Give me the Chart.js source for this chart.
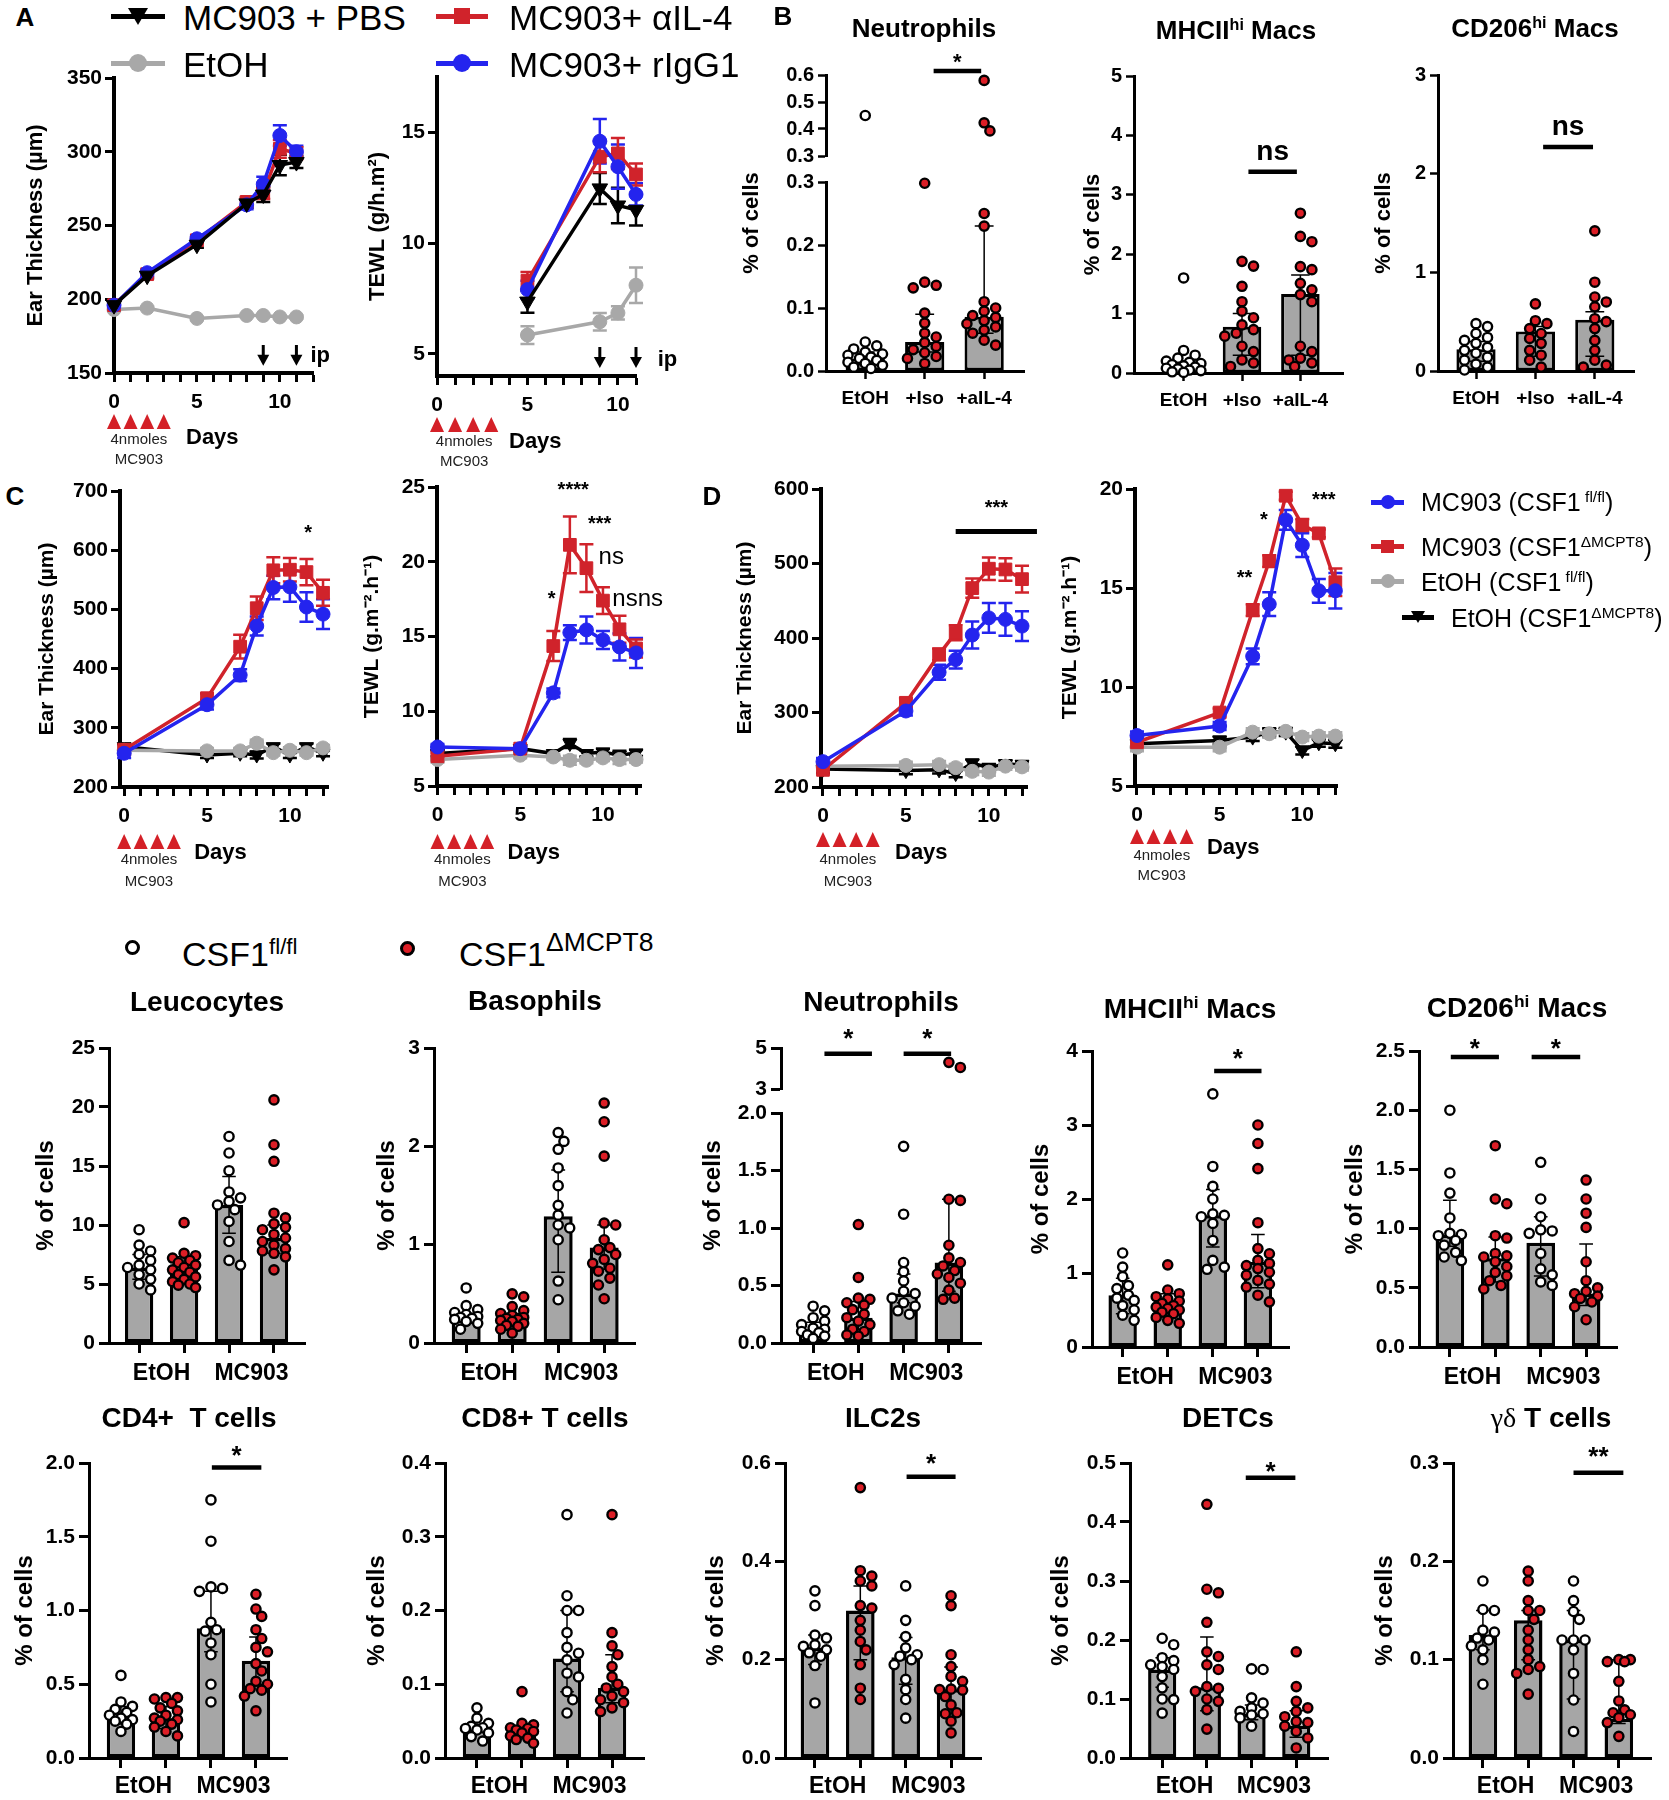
<!DOCTYPE html>
<html>
<head>
<meta charset="utf-8">
<title>CSF1 / MC903 figure</title>
<script src="https://cdn.jsdelivr.net/npm/chart.js@4.4.1/dist/chart.umd.min.js"></script>
<style>
  html, body { margin: 0; padding: 0; background: #fff; }
  body { position: relative; width: 1669px; height: 1800px; overflow: hidden; font-family: 'Liberation Sans', Arial, sans-serif; color: #000; }
  canvas { position: absolute; }
  .t { position: absolute; white-space: nowrap; line-height: 1; transform: translate(-50%, -50%); }
  .tl { position: absolute; white-space: nowrap; line-height: 1; transform: translate(0, -50%); }
  .t sup, .tl sup { font-size: 0.62em; vertical-align: 0.55em; line-height: 0; }
  .sym { position: absolute; box-sizing: border-box; }
</style>
</head>
<body>
<script>
// ---------- panel A : MC903 + anti-IL-4 ----------
const daysA = [0, 2, 5, 8, 9, 10, 11];
const earPBS = [196, 216, 237, 265, 271, 291, 293];
const earPBSerr = [2, 2, 2, 3, 5, 7, 4];
const earAIL4 = [196, 217, 240, 266, 272, 302, 299];
const earAIL4err = [2, 2, 2, 3, 4, 6, 4];
const earIgG = [196, 218, 241, 264, 278, 311, 300];
const earIgGerr = [2, 2, 2, 3, 5, 7, 4];
const earEtOHA = [193, 194, 187, 189, 189, 188, 188];
const earEtOHAerr = [1, 1, 1, 1, 1, 1, 1];

const daysTewlA = [5, 9, 10, 11];
const tewlPBS = [7.36, 12.47, 11.7, 11.5];
const tewlPBSerr = [0.5, 0.7, 0.8, 0.7];
const tewlAIL4 = [8.3, 13.9, 14.05, 13.1];
const tewlAIL4err = [0.4, 0.7, 0.7, 0.5];
const tewlIgG = [7.9, 14.6, 13.45, 12.2];
const tewlIgGerr = [0.4, 1.0, 1.0, 0.5];
const tewlEtOHA = [5.85, 6.45, 6.85, 8.1];
const tewlEtOHAerr = [0.4, 0.4, 0.3, 0.8];

const ipDays = [9, 11];
const doseDays = [0, 1, 2, 3];
const doseLines = ['4nmoles', 'MC903'];
const daysLabel = 'Days';

// ---------- panels C / D : CSF1 fl/fl vs CSF1 dMCPT8 ----------
const daysCD = [0, 5, 7, 8, 9, 10, 11, 12];
const earCfl = [257, 339, 389, 472, 537, 538, 504, 492];
const earCflErr = [8, 8, 10, 16, 20, 25, 25, 25];
const earCd = [263, 350, 437, 502, 566, 567, 563, 528];
const earCdErr = [8, 8, 20, 20, 22, 20, 22, 22];
const earCetFl = [262, 261, 261, 274, 258, 262, 258, 266];
const earCetD = [268, 254, 257, 254, 268, 254, 268, 257];
const earCetErr = [5, 5, 5, 6, 5, 5, 5, 5];

const tewlCfl = [7.61, 7.5, 11.23, 15.26, 15.44, 14.77, 14.3, 13.9];
const tewlCflErr = [0.2, 0.2, 0.3, 0.5, 0.9, 0.6, 0.9, 1.0];
const tewlCd = [6.99, 7.5, 14.36, 21.13, 19.57, 17.4, 15.48, 14.2];
const tewlCdErr = [0.2, 0.2, 1.0, 1.9, 1.6, 0.9, 0.9, 0.6];
const tewlCetFl = [6.77, 7.06, 6.94, 6.72, 6.72, 6.88, 6.77, 6.77];
const tewlCetD = [7.17, 7.5, 7.17, 7.84, 7.17, 7.28, 7.06, 7.21];
const tewlCetErr = [0.2, 0.2, 0.2, 0.3, 0.2, 0.2, 0.3, 0.2];

const earDfl = [234, 302, 354, 371, 404, 427, 425, 416];
const earDflErr = [5, 6, 10, 12, 18, 20, 22, 20];
const earDd = [223, 313, 378, 407, 467, 493, 492, 479];
const earDdErr = [5, 6, 8, 10, 13, 15, 15, 18];
const earDetFl = [228, 229, 230, 226, 221, 220, 228, 227];
const earDetD = [224, 222, 223, 218, 232, 226, 231, 230];
const earDetErr = [5, 5, 5, 5, 5, 5, 5, 5];

const tewlDfl = [7.55, 8.03, 11.55, 14.18, 18.44, 17.16, 14.86, 14.86];
const tewlDflErr = [0.2, 0.2, 0.4, 0.6, 0.5, 0.6, 0.6, 0.9];
const tewlDd = [7.21, 8.71, 13.88, 16.36, 19.66, 18.18, 17.76, 15.29];
const tewlDdErr = [0.2, 0.2, 0.3, 0.3, 0.2, 0.3, 0.2, 0.7];
const tewlDetFl = [6.96, 6.96, 7.72, 7.64, 7.76, 7.47, 7.52, 7.52];
const tewlDetD = [7.13, 7.3, 7.47, 7.72, 7.72, 6.79, 7.18, 7.13];
const tewlDetErr = [0.2, 0.2, 0.2, 0.2, 0.2, 0.2, 0.2, 0.2];

// ---------- panel B : cells, EtOH / +Iso / +aIL-4 ----------
const groupsB = ['EtOH', '+Iso', '+aIL-4'];
const neuB_EtOH = [0.45, 0.046, 0.04, 0.035, 0.03, 0.027, 0.025, 0.022, 0.02, 0.017, 0.014, 0.012, 0.009, 0.006, 0.004];
const neuB_Iso = [0.298, 0.141, 0.136, 0.132, 0.092, 0.076, 0.06, 0.054, 0.045, 0.039, 0.034, 0.029, 0.023, 0.02, 0.012];
const neuB_aIL4 = [0.58, 0.423, 0.393, 0.25, 0.23, 0.11, 0.1, 0.095, 0.088, 0.085, 0.08, 0.075, 0.07, 0.065, 0.06, 0.049, 0.041];
const neuB_med = [0.02, 0.046, 0.086], neuB_lo = [0.01, 0.03, 0.06], neuB_hi = [0.03, 0.09, 0.23];

const mhcB_EtOH = [1.6, 0.38, 0.3, 0.25, 0.2, 0.18, 0.16, 0.14, 0.12, 0.1, 0.08, 0.07, 0.05, 0.04, 0.02, 0.01];
const mhcB_Iso = [1.88, 1.8, 1.46, 1.2, 1.04, 0.93, 0.81, 0.73, 0.67, 0.62, 0.45, 0.36, 0.22, 0.17, 0.11];
const mhcB_aIL4 = [2.69, 2.3, 2.21, 1.79, 1.74, 1.51, 1.4, 1.32, 1.2, 0.45, 0.36, 0.25, 0.22, 0.17, 0.11];
const mhcB_med = [0.12, 0.78, 1.33], mhcB_lo = [0.05, 0.3, 0.3], mhcB_hi = [0.2, 1.0, 1.65];

const cdB_EtOH = [0.48, 0.45, 0.38, 0.34, 0.31, 0.28, 0.24, 0.21, 0.18, 0.14, 0.11, 0.07, 0.04, 0.01];
const cdB_Iso = [0.68, 0.51, 0.48, 0.43, 0.38, 0.33, 0.28, 0.21, 0.16, 0.11, 0.04];
const cdB_aIL4 = [1.42, 0.9, 0.75, 0.7, 0.65, 0.53, 0.5, 0.43, 0.31, 0.21, 0.11, 0.06, 0.04];
const cdB_med = [0.22, 0.4, 0.52], cdB_lo = [0.1, 0.15, 0.15], cdB_hi = [0.3, 0.45, 0.6];

// ---------- bottom panels : fl/fl vs dMCPT8, EtOH / MC903 ----------
const treatLabels = ['EtOH', 'MC903'];
const leuFlE = [9.6, 8.3, 7.8, 7.5, 7.0, 6.6, 6.4, 6.2, 5.8, 5.4, 5.0, 4.5];
const leuDE = [10.2, 7.6, 7.4, 7.2, 7.0, 6.8, 6.6, 6.4, 6.2, 6.0, 5.8, 5.6, 5.4, 5.2, 5.0, 4.9, 4.7];
const leuFlM = [17.5, 16.1, 14.6, 12.8, 12.3, 12.0, 11.7, 11.3, 10.3, 8.6, 7.0, 6.6];
const leuDM = [20.6, 16.8, 15.4, 11.0, 10.6, 10.1, 9.8, 9.6, 9.2, 8.9, 8.6, 8.3, 8.0, 7.8, 7.6, 7.3, 6.2];
const leuMed = [6.4, 6.3, 11.7, 8.9], leuLo = [5.4, 5.3, 9.3, 7.6], leuHi = [7.5, 7.3, 14.1, 10.0];

const basFlE = [0.56, 0.38, 0.34, 0.31, 0.29, 0.27, 0.26, 0.25, 0.24, 0.22, 0.2, 0.14];
const basDE = [0.5, 0.47, 0.37, 0.33, 0.3, 0.28, 0.26, 0.25, 0.24, 0.23, 0.22, 0.2, 0.18, 0.17, 0.14, 0.1];
const basFlM = [2.14, 2.05, 1.97, 1.78, 1.6, 1.4, 1.3, 1.2, 1.17, 1.05, 0.63, 0.44];
const basDM = [2.44, 2.25, 1.9, 1.22, 1.2, 1.05, 0.97, 0.95, 0.9, 0.85, 0.81, 0.76, 0.73, 0.66, 0.59, 0.45];
const basMed = [0.25, 0.25, 1.29, 0.97], basLo = [0.22, 0.2, 0.72, 0.75], basHi = [0.3, 0.3, 1.76, 1.2];

const neuFlE = [0.32, 0.28, 0.22, 0.19, 0.16, 0.13, 0.12, 0.1, 0.09, 0.07, 0.06, 0.04];
const neuDE = [1.03, 0.57, 0.39, 0.38, 0.35, 0.33, 0.29, 0.25, 0.22, 0.19, 0.16, 0.12, 0.1, 0.07, 0.06];
const neuFlM = [1.71, 1.12, 0.7, 0.62, 0.54, 0.45, 0.43, 0.39, 0.35, 0.32, 0.28, 0.25];
const neuDM = [4.3, 4.05, 1.25, 1.24, 0.85, 0.74, 0.7, 0.67, 0.63, 0.6, 0.57, 0.52, 0.46, 0.39, 0.38];
const neuMed = [0.12, 0.22, 0.43, 0.7], neuLo = [0.08, 0.12, 0.35, 0.45], neuHi = [0.18, 0.36, 0.6, 1.25];

const mhcFlE = [1.27, 1.08, 0.95, 0.83, 0.79, 0.7, 0.66, 0.63, 0.56, 0.5, 0.43, 0.36];
const mhcDE = [1.11, 0.77, 0.72, 0.68, 0.65, 0.62, 0.59, 0.56, 0.54, 0.52, 0.5, 0.47, 0.45, 0.4, 0.36, 0.32];
const mhcFlM = [3.42, 2.44, 2.17, 2.0, 1.8, 1.78, 1.76, 1.67, 1.44, 1.17, 1.08, 1.05];
const mhcDM = [3.0, 2.75, 2.41, 1.68, 1.33, 1.26, 1.17, 1.13, 1.1, 1.06, 1.01, 0.97, 0.9, 0.85, 0.81, 0.7, 0.61];
const mhcMed = [0.7, 0.6, 1.78, 1.15], mhcLo = [0.45, 0.45, 1.35, 0.8], mhcHi = [0.93, 0.72, 2.13, 1.52];

const cd206FlE = [2.0, 1.47, 1.3, 1.09, 0.96, 0.95, 0.94, 0.9, 0.86, 0.8, 0.76, 0.73];
const cd206DE = [1.7, 1.25, 1.21, 0.94, 0.92, 0.79, 0.77, 0.76, 0.72, 0.68, 0.63, 0.6, 0.56, 0.52, 0.49];
const cd206FlM = [1.56, 1.25, 1.1, 0.99, 0.98, 0.96, 0.79, 0.66, 0.61, 0.55, 0.52];
const cd206DM = [1.41, 1.25, 1.13, 1.01, 0.72, 0.56, 0.5, 0.47, 0.45, 0.43, 0.41, 0.38, 0.34, 0.23];
const cd206Med = [0.95, 0.75, 0.88, 0.45], cd206Lo = [0.85, 0.55, 0.6, 0.35], cd206Hi = [1.24, 0.93, 1.1, 0.87];

const cd4FlE = [0.56, 0.38, 0.35, 0.33, 0.31, 0.29, 0.27, 0.26, 0.25, 0.23, 0.18];
const cd4DE = [0.41, 0.41, 0.4, 0.37, 0.34, 0.32, 0.29, 0.27, 0.26, 0.25, 0.23, 0.21, 0.18, 0.15];
const cd4FlM = [1.75, 1.47, 1.16, 1.15, 1.13, 0.92, 0.87, 0.86, 0.78, 0.7, 0.5, 0.38];
const cd4DM = [1.11, 1.01, 0.96, 0.87, 0.81, 0.75, 0.72, 0.64, 0.59, 0.52, 0.5, 0.47, 0.46, 0.42, 0.32];
const cd4Med = [0.27, 0.27, 0.88, 0.66], cd4Lo = [0.23, 0.2, 0.72, 0.5], cd4Hi = [0.35, 0.35, 1.13, 0.82];

const cd8FlE = [0.068, 0.054, 0.047, 0.043, 0.041, 0.04, 0.038, 0.034, 0.029, 0.023];
const cd8DE = [0.09, 0.047, 0.045, 0.041, 0.04, 0.038, 0.036, 0.034, 0.03, 0.027, 0.025, 0.02];
const cd8FlM = [0.33, 0.22, 0.2, 0.2, 0.17, 0.15, 0.142, 0.133, 0.115, 0.11, 0.09, 0.079, 0.061];
const cd8DM = [0.33, 0.17, 0.152, 0.14, 0.124, 0.11, 0.1, 0.095, 0.09, 0.084, 0.079, 0.075, 0.068, 0.063];
const cd8Med = [0.04, 0.037, 0.135, 0.095], cd8Lo = [0.035, 0.03, 0.09, 0.075], cd8Hi = [0.045, 0.042, 0.2, 0.14];

const ilcFlE = [0.34, 0.31, 0.25, 0.244, 0.23, 0.227, 0.22, 0.214, 0.207, 0.188, 0.112];
const ilcDE = [0.55, 0.381, 0.37, 0.36, 0.35, 0.31, 0.305, 0.28, 0.26, 0.237, 0.22, 0.19, 0.142, 0.119];
const ilcFlM = [0.35, 0.28, 0.247, 0.224, 0.21, 0.207, 0.2, 0.19, 0.16, 0.139, 0.119, 0.081];
const ilcDM = [0.33, 0.31, 0.21, 0.186, 0.166, 0.156, 0.14, 0.139, 0.138, 0.125, 0.108, 0.092, 0.09, 0.075, 0.051];
const ilcMed = [0.225, 0.3, 0.205, 0.14], ilcLo = [0.19, 0.2, 0.15, 0.09], ilcHi = [0.25, 0.35, 0.245, 0.185];

const detFlE = [0.203, 0.192, 0.17, 0.165, 0.158, 0.155, 0.15, 0.138, 0.119, 0.1, 0.099, 0.076];
const detDE = [0.43, 0.286, 0.28, 0.23, 0.18, 0.172, 0.158, 0.15, 0.121, 0.118, 0.113, 0.1, 0.096, 0.082, 0.049];
const detFlM = [0.151, 0.15, 0.102, 0.093, 0.085, 0.079, 0.075, 0.073, 0.068, 0.054];
const detDM = [0.18, 0.121, 0.096, 0.085, 0.079, 0.07, 0.062, 0.06, 0.054, 0.045, 0.034, 0.017];
const detMed = [0.15, 0.12, 0.075, 0.055], detLo = [0.12, 0.08, 0.065, 0.035], detHi = [0.17, 0.205, 0.09, 0.08];

const gdFlE = [0.18, 0.151, 0.15, 0.13, 0.128, 0.122, 0.12, 0.114, 0.11, 0.1, 0.075];
const gdDE = [0.19, 0.18, 0.16, 0.15, 0.15, 0.141, 0.13, 0.12, 0.11, 0.1, 0.093, 0.09, 0.086, 0.065];
const gdFlM = [0.18, 0.16, 0.149, 0.141, 0.12, 0.12, 0.12, 0.11, 0.086, 0.059, 0.027];
const gdDM = [0.1, 0.1, 0.098, 0.098, 0.078, 0.058, 0.049, 0.046, 0.044, 0.041, 0.036, 0.022];
const gdMed = [0.125, 0.14, 0.12, 0.04], gdLo = [0.11, 0.1, 0.06, 0.035], gdHi = [0.15, 0.15, 0.15, 0.1];

// ---------- styling / helpers ----------
const FONT = "'Liberation Sans', Arial, Helvetica, sans-serif";
const BLACK = '#000000', RED = '#d0232b', BLUE = '#2424ee', GRAY = '#a8a8a8';
const BARGRAY = '#a6a6a6', DOTRED = '#dc1e26', DOSERED = '#d42027';
Chart.defaults.font.family = FONT;
Chart.defaults.color = '#000';

const annMap = new Map();

function place(plot, pad) {
  const c = document.createElement('canvas');
  const w = Math.round(plot.R - plot.L + pad.l + pad.r);
  const h = Math.round(plot.B - plot.T + pad.t + pad.b);
  c.width = w; c.height = h;
  c.style.left = Math.round(plot.L - pad.l) + 'px';
  c.style.top = Math.round(plot.T - pad.t) + 'px';
  c.style.width = w + 'px'; c.style.height = h + 'px';
  document.body.appendChild(c);
  return c;
}

function putText(ctx, str, x, y, size, bold, align) {
  ctx.fillStyle = '#000';
  ctx.font = (bold ? 'bold ' : '') + size + 'px ' + FONT;
  ctx.textAlign = align || 'center';
  ctx.textBaseline = 'alphabetic';
  const k = /^\*+$/.test(str) ? 0.57 : (/^[a-z]+$/.test(str) ? 0.26 : 0.36);
  ctx.fillText(str, x, y + k * size);
}

// SEM bars for the time-course charts
const semBars = {
  id: 'semBars',
  beforeDatasetsDraw(chart) {
    const ctx = chart.ctx;
    chart.data.datasets.forEach((ds, di) => {
      if (!ds.err) return;
      const meta = chart.getDatasetMeta(di);
      const ys = chart.scales[meta.yAxisID];
      ctx.save();
      ctx.strokeStyle = ds.borderColor; ctx.lineWidth = 2.5;
      meta.data.forEach((pt, i) => {
        const v = ds.data[i].y, e = ds.err[i];
        const y1 = ys.getPixelForValue(v - e), y2 = ys.getPixelForValue(v + e), x = pt.x;
        ctx.beginPath();
        ctx.moveTo(x, y1); ctx.lineTo(x, y2);
        ctx.moveTo(x - 7, y1); ctx.lineTo(x + 7, y1);
        ctx.moveTo(x - 7, y2); ctx.lineTo(x + 7, y2);
        ctx.stroke();
      });
      ctx.restore();
    });
  }
};

// median + IQR whiskers on the bars
const iqrBars = {
  id: 'iqrBars',
  afterDatasetDraw(chart, args) {
    const ds = chart.data.datasets[args.index];
    if (!ds.lo) return;
    const ys = chart.scales[args.meta.yAxisID], ctx = chart.ctx;
    ctx.save();
    ctx.strokeStyle = '#000'; ctx.lineWidth = 1.5;
    args.meta.data.forEach((bar, i) => {
      const x = bar.x, cw = bar.width * 0.24;
      const y1 = ys.getPixelForValue(ds.lo[i]), y2 = ys.getPixelForValue(ds.hi[i]);
      ctx.beginPath();
      ctx.moveTo(x, y1); ctx.lineTo(x, y2);
      ctx.moveTo(x - cw, y1); ctx.lineTo(x + cw, y1);
      ctx.moveTo(x - cw, y2); ctx.lineTo(x + cw, y2);
      ctx.stroke();
    });
    ctx.restore();
  }
};

// significance bars, stars, ip arrows, dosing triangles, broken-axis titles
const annot = {
  id: 'annot',
  afterDraw(chart) {
    const a = annMap.get(chart.canvas);
    if (!a) return;
    const ctx = chart.ctx, xs = chart.scales.x, area = chart.chartArea;
    ctx.save();
    (a.sig || []).forEach(s => {
      const ys = chart.scales[s.axis || 'y'];
      const x1 = xs.getPixelForValue(s.x1), x2 = xs.getPixelForValue(s.x2), y = ys.getPixelForValue(s.y);
      ctx.strokeStyle = '#000'; ctx.lineWidth = s.lw || 4.5;
      ctx.beginPath(); ctx.moveTo(x1, y); ctx.lineTo(x2, y); ctx.stroke();
      putText(ctx, s.text, (x1 + x2) / 2, y + s.dy, s.size, true);
    });
    (a.texts || []).forEach(t => {
      const ys = chart.scales[t.axis || 'y'];
      putText(ctx, t.text, xs.getPixelForValue(t.x), ys.getPixelForValue(t.y), t.size, t.bold !== false, t.align);
    });
    (a.arrows || []).forEach(ar => {
      const ys = chart.scales.y;
      const x = xs.getPixelForValue(ar.x), y1 = ys.getPixelForValue(ar.y1), y2 = ys.getPixelForValue(ar.y2);
      ctx.strokeStyle = '#000'; ctx.fillStyle = '#000'; ctx.lineWidth = 3;
      ctx.beginPath(); ctx.moveTo(x, y1); ctx.lineTo(x, y2 - 8); ctx.stroke();
      ctx.beginPath(); ctx.moveTo(x - 6, y2 - 11); ctx.lineTo(x + 6, y2 - 11); ctx.lineTo(x, y2); ctx.closePath(); ctx.fill();
    });
    if (a.dose) {
      const d = a.dose, b = area.bottom;
      ctx.fillStyle = DOSERED;
      doseDays.forEach(day => {
        const x = xs.getPixelForValue(day), y = b + d.tri;
        ctx.beginPath(); ctx.moveTo(x, y - 8); ctx.lineTo(x + 7, y + 7); ctx.lineTo(x - 7, y + 7); ctx.closePath(); ctx.fill();
      });
      const mid = (xs.getPixelForValue(doseDays[0]) + xs.getPixelForValue(doseDays[doseDays.length - 1])) / 2;
      ctx.fillStyle = '#222'; ctx.font = '15px ' + FONT; ctx.textAlign = 'center'; ctx.textBaseline = 'middle';
      ctx.fillText(doseLines[0], mid, b + d.l1);
      ctx.fillText(doseLines[1], mid, b + d.l2);
      ctx.fillStyle = '#000'; ctx.font = 'bold 22px ' + FONT; ctx.textAlign = 'left';
      ctx.fillText(daysLabel, xs.getPixelForValue(0) + d.dx, b + d.dy);
    }
    if (a.ytitle) {
      const t = a.ytitle;
      ctx.translate(area.left - t.dx, (area.top + area.bottom) / 2);
      ctx.rotate(-Math.PI / 2);
      ctx.fillStyle = '#000'; ctx.font = 'bold ' + t.size + 'px ' + FONT;
      ctx.textAlign = 'center'; ctx.textBaseline = 'middle';
      ctx.fillText(t.text, 0, 0);
    }
    ctx.restore();
  }
};

function lineChart(p) {
  const XH = 41;
  const pad = { l: Math.round(p.plot.L - p.titleCx + p.titleSize * 0.6), t: 40, r: 70, b: 105 };
  const cv = place(p.plot, pad);
  annMap.set(cv, p.ann || {});
  const xTicks = [];
  for (let d = Math.ceil(p.xMin); d <= p.xMax; d++) xTicks.push(d);
  const tickGrid = { display: true, drawOnChartArea: false, drawTicks: true, tickLength: 9, tickWidth: 3, tickColor: '#000' };
  new Chart(cv, {
    type: 'line',
    data: {
      datasets: p.series.map(s => ({
        data: s.x.map((d, i) => ({ x: d, y: s.y[i] })), err: s.err,
        borderColor: s.color, backgroundColor: s.color, borderWidth: 3.5,
        pointStyle: s.shape, pointRadius: s.r, pointRotation: s.rot || 0,
        pointBackgroundColor: s.color, pointBorderColor: s.color, pointBorderWidth: 1,
        tension: 0, clip: false, xAxisID: 'x', yAxisID: 'y'
      }))
    },
    options: {
      responsive: false, animation: false, devicePixelRatio: 1,
      layout: { padding: { left: 0, top: pad.t, right: pad.r, bottom: pad.b - XH } },
      plugins: { legend: { display: false }, tooltip: { enabled: false } },
      scales: {
        x: {
          type: 'linear', min: p.xMin, max: p.xMax, offset: false,
          afterBuildTicks: s => { s.ticks = xTicks.map(v => ({ value: v })); },
          ticks: { autoSkip: false, maxRotation: 0, padding: 8, font: { size: 21, weight: 'bold' },
            callback: v => (v % 5 === 0 ? String(Math.abs(v)) : '') },
          grid: tickGrid, border: { display: true, width: 4, color: '#000' },
          afterFit: s => { s.height = XH; }
        },
        y: {
          type: 'linear', min: p.yMin, max: p.yMax,
          afterBuildTicks: s => { s.ticks = p.yTicks.map(t => ({ value: parseFloat(t) })); },
          ticks: { autoSkip: false, padding: 3, font: { size: 21, weight: 'bold' }, callback: (v, i) => p.yTicks[i] },
          grid: tickGrid, border: { display: true, width: 4, color: '#000' },
          title: { display: true, text: p.title, padding: 0, font: { size: p.titleSize, weight: 'bold' } },
          afterFit: s => { s.width = pad.l; }
        }
      }
    },
    plugins: [semBars, annot]
  });
}

// deterministic beeswarm: spread equal-ish values sideways, kept within the bar
function swarm(vals, cx, xPx, yPix, d, maxOff) {
  const placed = [], out = [];
  vals.slice().sort((a, b) => b - a).forEach(v => {
    const py = yPix(v);
    let best = 0, bestGap = -1;
    for (let k = 0; k < 40; k++) {
      const o = k === 0 ? 0 : (k % 2 ? 1 : -1) * Math.ceil(k / 2) * d * 0.5;
      if (Math.abs(o) > maxOff) break;
      const gap = placed.reduce((m, q) => Math.min(m, Math.hypot(q.x - o, q.y - py)), Infinity);
      if (gap >= d * 0.8) { best = o; break; }
      if (gap > bestGap) { bestGap = gap; best = o; }
    }
    placed.push({ x: best, y: py });
    out.push({ x: cx + best / xPx, y: v });
  });
  return out;
}

const ROW = { tfs: 24, yfs: 21, xfs: 23, ypad: 4, xpad: 7, tl: 10, tw: 3, aw: 3, bw: 3.5, barPct: 0.63 };
const ROW4 = Object.assign({}, ROW, { xpad: 5 });
const ROWB = { tfs: 22, yfs: 20, xfs: 19, ypad: 4, xpad: 8, tl: 8, tw: 2.5, aw: 3, bw: 3, barPct: 0.66 };

function dotChart(p) {
  const S = p.style;
  const { L, T, R, B } = p.plot;
  const pad = { l: Math.round(L - p.titleCx + S.tfs * 0.6), t: 60, r: 20, b: 50 };
  const cv = place(p.plot, pad);
  const br = p.broken;
  const ann = { sig: (p.sig || []).map(s => Object.assign({ size: 26 }, s)) };
  if (br) ann.ytitle = { text: '% of cells', dx: L - p.titleCx, size: S.tfs };
  annMap.set(cv, ann);

  const xPx = (R - L) / (p.xMax - p.xMin);
  const yPix = v => {
    if (!br) return B - (v - p.yMin) / (p.yMax - p.yMin) * (B - T);
    if (v <= br.lo[1]) return B - (v - br.lo[0]) / (br.lo[1] - br.lo[0]) * (B - br.loTop);
    return br.hiBot - (v - br.hi[0]) / (br.hi[1] - br.hi[0]) * (br.hiBot - T);
  };
  const maxOff = S.barPct * xPx / 2 - 1;
  const open = { lo: [], hi: [] }, red = { lo: [], hi: [] };
  p.groups.forEach((g, gi) => {
    swarm(g.v, gi, xPx, yPix, 11.5, maxOff).forEach(pt => {
      const seg = br && pt.y > br.lo[1] ? 'hi' : 'lo';
      (g.red ? red : open)[seg].push(pt);
    });
  });
  const loId = br ? 'yLo' : 'y';
  const dots = isRed => ({ type: 'scatter', showLine: false, pointRadius: 4.6, pointBorderWidth: 2.4,
    pointBorderColor: '#000', pointBackgroundColor: isRed ? DOTRED : '#fff', clip: false, order: 0, xAxisID: 'x' });
  const datasets = [
    { type: 'bar', data: p.bar.map((v, i) => ({ x: i, y: v })), lo: p.lo, hi: p.hi,
      backgroundColor: BARGRAY, borderColor: '#000', borderWidth: S.bw, borderSkipped: false,
      barPercentage: S.barPct, categoryPercentage: 1, xAxisID: 'x', yAxisID: loId, order: 2 },
    Object.assign(dots(false), { data: open.lo, yAxisID: loId }),
    Object.assign(dots(true), { data: red.lo, yAxisID: loId })
  ];
  if (br) {
    datasets.push(Object.assign(dots(false), { data: open.hi, yAxisID: 'yHi' }));
    datasets.push(Object.assign(dots(true), { data: red.hi, yAxisID: 'yHi' }));
  }

  const tickGrid = { display: true, drawOnChartArea: false, drawTicks: true, tickLength: S.tl, tickWidth: S.tw, tickColor: '#000', offset: false };
  const border = { display: true, width: S.aw, color: '#000' };
  const yOpt = (min, max, ticks, extra) => Object.assign({
    type: 'linear', position: 'left', min, max,
    afterBuildTicks: s => { s.ticks = ticks.map(t => ({ value: parseFloat(t) })); },
    ticks: { autoSkip: false, padding: S.ypad, font: { size: S.yfs, weight: 'bold' }, callback: (v, i) => ticks[i] },
    grid: tickGrid, border,
    afterFit: s => { s.width = pad.l; }
  }, extra || {});

  const scales = {};
  scales.x = {
    type: 'linear', position: 'bottom', min: p.xMin, max: p.xMax, offset: false,
    afterBuildTicks: s => { s.ticks = p.groups.map((g, i) => ({ value: i })); },
    ticks: p.labelAt ? { display: false } :
      { display: true, autoSkip: false, maxRotation: 0, padding: S.xpad, font: { size: S.xfs, weight: 'bold' }, callback: (v, i) => p.xLabels[i] },
    grid: tickGrid, border,
    afterFit: s => { s.height = p.labelAt ? S.tl : pad.b; }
  };
  if (p.labelAt) {
    scales.x2 = {
      type: 'linear', position: 'bottom', min: p.xMin, max: p.xMax, offset: false,
      afterBuildTicks: s => { s.ticks = p.labelAt.map(v => ({ value: v })); },
      ticks: { autoSkip: false, maxRotation: 0, padding: S.xpad, font: { size: S.xfs, weight: 'bold' }, callback: (v, i) => p.xLabels[i] },
      grid: { display: false, drawTicks: false }, border: { display: false },
      afterFit: s => { s.height = pad.b - S.tl; }
    };
  }
  if (br) {
    scales.yLo = yOpt(br.lo[0], br.lo[1], br.loTicks, { stack: 'brk', stackWeight: B - br.loTop });
    scales.yGap = { type: 'linear', position: 'left', min: 0, max: 1, stack: 'brk', stackWeight: br.loTop - br.hiBot,
      ticks: { display: false }, grid: { display: false }, border: { display: false },
      afterFit: s => { s.width = pad.l; } };
    scales.yHi = yOpt(br.hi[0], br.hi[1], br.hiTicks, { stack: 'brk', stackWeight: br.hiBot - T });
  } else {
    scales.y = yOpt(p.yMin, p.yMax, p.yTicks, {
      title: { display: true, text: '% of cells', padding: 0, font: { size: S.tfs, weight: 'bold' } } });
  }

  new Chart(cv, {
    type: 'bar',
    data: { datasets },
    options: {
      responsive: false, animation: false, devicePixelRatio: 1,
      layout: { padding: { left: 0, top: pad.t, right: pad.r, bottom: 0 } },
      plugins: { legend: { display: false }, tooltip: { enabled: false } },
      scales
    },
    plugins: [iqrBars, annot]
  });
}

function label(html, x, y, css, left) {
  const el = document.createElement('div');
  el.className = left ? 'tl' : 't';
  el.innerHTML = html;
  el.style.left = x + 'px'; el.style.top = y + 'px';
  if (css) el.style.cssText += css;
  document.body.appendChild(el);
}

function legendMark(x1, x2, y, color, shape, size) {
  const ln = document.createElement('div');
  ln.className = 'sym';
  ln.style.cssText += `left:${x1}px;top:${y - 2.5}px;width:${x2 - x1}px;height:5px;background:${color}`;
  document.body.appendChild(ln);
  const mk = document.createElement('div');
  mk.className = 'sym';
  const cx = (x1 + x2) / 2;
  if (shape === 'circle') mk.style.cssText += `left:${cx - size / 2}px;top:${y - size / 2}px;width:${size}px;height:${size}px;border-radius:50%;background:${color}`;
  else if (shape === 'rect') mk.style.cssText += `left:${cx - size / 2}px;top:${y - size / 2}px;width:${size}px;height:${size}px;background:${color}`;
  else mk.style.cssText += `left:${cx - size / 2}px;top:${y - size * 0.4}px;width:0;height:0;border-left:${size / 2}px solid transparent;border-right:${size / 2}px solid transparent;border-top:${size * 0.85}px solid ${color}`;
  document.body.appendChild(mk);
}

function dotMark(x, y, size, fill) {
  const mk = document.createElement('div');
  mk.className = 'sym';
  mk.style.cssText += `left:${x - size / 2}px;top:${y - size / 2}px;width:${size}px;height:${size}px;border-radius:50%;background:${fill};border:3px solid #000`;
  document.body.appendChild(mk);
}

// ---------- panel A ----------
lineChart({
  plot: { L: 114, T: 78, R: 313, B: 373 }, xMin: 0, xMax: 12, yMin: 150, yMax: 350,
  yTicks: ['150', '200', '250', '300', '350'], title: 'Ear Thickness (µm)', titleCx: 36, titleSize: 22,
  series: [
    { x: daysA, y: earPBS, err: earPBSerr, color: BLACK, shape: 'triangle', rot: 180, r: 9 },
    { x: daysA, y: earIgG, err: earIgGerr, color: BLUE, shape: 'circle', r: 7 },
    { x: daysA, y: earAIL4, err: earAIL4err, color: RED, shape: 'rect', r: 9 },
    { x: daysA, y: earEtOHA, err: earEtOHAerr, color: GRAY, shape: 'circle', r: 7 }
  ],
  ann: {
    arrows: ipDays.map(d => ({ x: d, y1: 169, y2: 155 })),
    texts: [{ text: 'ip', x: 11.85, y: 161, size: 22, align: 'left' }],
    dose: { tri: 49, l1: 67, l2: 87, dx: 72, dy: 65 }
  }
});
lineChart({
  plot: { L: 437, T: 77, R: 636, B: 376 }, xMin: 0, xMax: 11, yMin: 4, yMax: 17.5,
  yTicks: ['5', '10', '15'], title: 'TEWL (g/h.m²)', titleCx: 378, titleSize: 22,
  series: [
    { x: daysTewlA, y: tewlPBS, err: tewlPBSerr, color: BLACK, shape: 'triangle', rot: 180, r: 9 },
    { x: daysTewlA, y: tewlIgG, err: tewlIgGerr, color: BLUE, shape: 'circle', r: 7 },
    { x: daysTewlA, y: tewlAIL4, err: tewlAIL4err, color: RED, shape: 'rect', r: 9 },
    { x: daysTewlA, y: tewlEtOHA, err: tewlEtOHAerr, color: GRAY, shape: 'circle', r: 7 }
  ],
  ann: {
    arrows: ipDays.map(d => ({ x: d, y1: 5.31, y2: 4.36 })),
    texts: [{ text: 'ip', x: 12.2, y: 4.72, size: 22, align: 'left' }],
    dose: { tri: 49, l1: 66, l2: 86, dx: 72, dy: 66 }
  }
});

// ---------- panel B ----------
dotChart({
  plot: { L: 826, T: 75, R: 1024, B: 371 }, titleCx: 752, style: ROWB, xMin: -0.66, xMax: 2.67,
  groups: [{ v: neuB_EtOH, red: false }, { v: neuB_Iso, red: true }, { v: neuB_aIL4, red: true }],
  bar: neuB_med, lo: neuB_lo, hi: neuB_hi, xLabels: groupsB,
  broken: { lo: [0, 0.3], hi: [0.3, 0.6], loTop: 182, hiBot: 156, loTicks: ['0.0', '0.1', '0.2', '0.3'], hiTicks: ['0.3', '0.4', '0.5', '0.6'] },
  sig: [{ axis: 'yHi', x1: 1.15, x2: 1.95, y: 0.615, text: '*', dy: -14, size: 22 }]
});
dotChart({
  plot: { L: 1134, T: 76, R: 1343, B: 373 }, titleCx: 1093, style: ROWB, xMin: -0.85, xMax: 2.73,
  yMin: 0, yMax: 5, yTicks: ['0', '1', '2', '3', '4', '5'],
  groups: [{ v: mhcB_EtOH, red: false }, { v: mhcB_Iso, red: true }, { v: mhcB_aIL4, red: true }],
  bar: mhcB_med, lo: mhcB_lo, hi: mhcB_hi, xLabels: groupsB,
  sig: [{ x1: 1.11, x2: 1.94, y: 3.39, text: 'ns', dy: -19, size: 28 }]
});
dotChart({
  plot: { L: 1438, T: 75, R: 1634, B: 371 }, titleCx: 1384, style: ROWB, xMin: -0.64, xMax: 2.66,
  yMin: 0, yMax: 3, yTicks: ['0', '1', '2', '3'],
  groups: [{ v: cdB_EtOH, red: false }, { v: cdB_Iso, red: true }, { v: cdB_aIL4, red: true }],
  bar: cdB_med, lo: cdB_lo, hi: cdB_hi, xLabels: groupsB,
  sig: [{ x1: 1.13, x2: 1.97, y: 2.27, text: 'ns', dy: -19, size: 28 }]
});

// ---------- panels C and D ----------
function cdSeries(xs, fl, flE, d, dE, etFl, etD, etE) {
  return [
    { x: xs, y: fl, err: flE, color: BLUE, shape: 'circle', r: 7 },
    { x: xs, y: d, err: dE, color: RED, shape: 'rect', r: 9 },
    { x: xs, y: etFl, err: etE, color: GRAY, shape: 'circle', r: 7 },
    { x: xs, y: etD, err: etE, color: BLACK, shape: 'triangle', rot: 180, r: 8 }
  ];
}
lineChart({
  plot: { L: 120, T: 491, R: 328, B: 787 }, xMin: -0.25, xMax: 12.3, yMin: 200, yMax: 700,
  yTicks: ['200', '300', '400', '500', '600', '700'], title: 'Ear Thickness (µm)', titleCx: 48, titleSize: 21,
  series: cdSeries(daysCD, earCfl, earCflErr, earCd, earCdErr, earCetFl, earCetD, earCetErr),
  ann: { texts: [{ text: '*', x: 11.1, y: 639, size: 20 }], dose: { tri: 55, l1: 73, l2: 95, dx: 70, dy: 66 } }
});
lineChart({
  plot: { L: 437, T: 487, R: 641, B: 786 }, xMin: -0.03, xMax: 12.3, yMin: 5, yMax: 25,
  yTicks: ['5', '10', '15', '20', '25'], title: 'TEWL (g.m⁻².h⁻¹)', titleCx: 373, titleSize: 21,
  series: cdSeries(daysCD, tewlCfl, tewlCflErr, tewlCd, tewlCdErr, tewlCetFl, tewlCetD, tewlCetErr),
  ann: {
    texts: [
      { text: '****', x: 8.2, y: 25.13, size: 20 }, { text: '***', x: 9.8, y: 22.9, size: 20 },
      { text: 'ns', x: 10.5, y: 20.25, size: 24, bold: false }, { text: 'nsns', x: 12.1, y: 17.45, size: 24, bold: false },
      { text: '*', x: 6.9, y: 17.9, size: 20 }
    ],
    dose: { tri: 56, l1: 74, l2: 96, dx: 70, dy: 67 }
  }
});
lineChart({
  plot: { L: 821, T: 489, R: 1027, B: 787 }, xMin: -0.12, xMax: 12.3, yMin: 200, yMax: 600,
  yTicks: ['200', '300', '400', '500', '600'], title: 'Ear Thickness (µm)', titleCx: 746, titleSize: 21,
  series: cdSeries(daysCD, earDfl, earDflErr, earDd, earDdErr, earDetFl, earDetD, earDetErr),
  ann: { sig: [{ x1: 8.0, x2: 12.9, y: 543, lw: 5, text: '***', dy: -29, size: 20 }], dose: { tri: 53, l1: 73, l2: 95, dx: 72, dy: 66 } }
});
lineChart({
  plot: { L: 1135, T: 489, R: 1337, B: 786 }, xMin: -0.12, xMax: 12.1, yMin: 5, yMax: 20,
  yTicks: ['5', '10', '15', '20'], title: 'TEWL (g.m⁻².h⁻¹)', titleCx: 1071, titleSize: 21,
  series: cdSeries(daysCD, tewlDfl, tewlDflErr, tewlDd, tewlDdErr, tewlDetFl, tewlDetD, tewlDetErr),
  ann: {
    texts: [{ text: '*', x: 7.67, y: 18.7, size: 20 }, { text: '**', x: 6.5, y: 15.8, size: 20 }, { text: '***', x: 11.3, y: 19.7, size: 20 }],
    dose: { tri: 51, l1: 70, l2: 90, dx: 70, dy: 62 }
  }
});

// ---------- bottom rows ----------
function four(flE, dE, flM, dM) {
  return [{ v: flE, red: false }, { v: dE, red: true }, { v: flM, red: false }, { v: dM, red: true }];
}
const mid4 = [0.5, 2.5];
dotChart({ plot: { L: 109, T: 1048, R: 305, B: 1343 }, titleCx: 46, style: ROW, xMin: -0.67, xMax: 3.69,
  yMin: 0, yMax: 25, yTicks: ['0', '5', '10', '15', '20', '25'], groups: four(leuFlE, leuDE, leuFlM, leuDM),
  bar: leuMed, lo: leuLo, hi: leuHi, xLabels: treatLabels, labelAt: mid4 });
dotChart({ plot: { L: 434, T: 1048, R: 635, B: 1343 }, titleCx: 387, style: ROW, xMin: -0.7, xMax: 3.67,
  yMin: 0, yMax: 3, yTicks: ['0', '1', '2', '3'], groups: four(basFlE, basDE, basFlM, basDM),
  bar: basMed, lo: basLo, hi: basHi, xLabels: treatLabels, labelAt: mid4 });
dotChart({ plot: { L: 781, T: 1048, R: 981, B: 1343 }, titleCx: 713, style: ROW, xMin: -0.71, xMax: 3.71,
  groups: four(neuFlE, neuDE, neuFlM, neuDM), bar: neuMed, lo: neuLo, hi: neuHi, xLabels: treatLabels, labelAt: mid4,
  broken: { lo: [0, 2], hi: [3, 5], loTop: 1113, hiBot: 1089, loTicks: ['0.0', '0.5', '1.0', '1.5', '2.0'], hiTicks: ['3', '5'] },
  sig: [{ axis: 'yHi', x1: 0.25, x2: 1.3, y: 4.72, text: '*', dy: -22 }, { axis: 'yHi', x1: 2.0, x2: 3.05, y: 4.72, text: '*', dy: -22 }] });
dotChart({ plot: { L: 1092, T: 1051, R: 1289, B: 1347 }, titleCx: 1041, style: ROW, xMin: -0.68, xMax: 3.69,
  yMin: 0, yMax: 4, yTicks: ['0', '1', '2', '3', '4'], groups: four(mhcFlE, mhcDE, mhcFlM, mhcDM),
  bar: mhcMed, lo: mhcLo, hi: mhcHi, xLabels: treatLabels, labelAt: mid4,
  sig: [{ x1: 2.03, x2: 3.08, y: 3.73, text: '*', dy: -19 }] });
dotChart({ plot: { L: 1419, T: 1051, R: 1617, B: 1347 }, titleCx: 1355, style: ROW, xMin: -0.68, xMax: 3.68,
  yMin: 0, yMax: 2.5, yTicks: ['0.0', '0.5', '1.0', '1.5', '2.0', '2.5'], groups: four(cd206FlE, cd206DE, cd206FlM, cd206DM),
  bar: cd206Med, lo: cd206Lo, hi: cd206Hi, xLabels: treatLabels, labelAt: mid4,
  sig: [{ x1: 0.02, x2: 1.08, y: 2.45, text: '*', dy: -15 }, { x1: 1.8, x2: 2.87, y: 2.45, text: '*', dy: -15 }] });

dotChart({ plot: { L: 89, T: 1463, R: 287, B: 1758 }, titleCx: 25, style: ROW4, xMin: -0.71, xMax: 3.69,
  yMin: 0, yMax: 2, yTicks: ['0.0', '0.5', '1.0', '1.5', '2.0'], groups: four(cd4FlE, cd4DE, cd4FlM, cd4DM),
  bar: cd4Med, lo: cd4Lo, hi: cd4Hi, xLabels: treatLabels, labelAt: mid4,
  sig: [{ x1: 2.02, x2: 3.12, y: 1.97, text: '*', dy: -18 }] });
dotChart({ plot: { L: 445, T: 1463, R: 644, B: 1758 }, titleCx: 377, style: ROW4, xMin: -0.71, xMax: 3.71,
  yMin: 0, yMax: 0.4, yTicks: ['0.0', '0.1', '0.2', '0.3', '0.4'], groups: four(cd8FlE, cd8DE, cd8FlM, cd8DM),
  bar: cd8Med, lo: cd8Lo, hi: cd8Hi, xLabels: treatLabels, labelAt: mid4 });
dotChart({ plot: { L: 785, T: 1463, R: 981, B: 1758 }, titleCx: 716, style: ROW4, xMin: -0.66, xMax: 3.66,
  yMin: 0, yMax: 0.6, yTicks: ['0.0', '0.2', '0.4', '0.6'], groups: four(ilcFlE, ilcDE, ilcFlM, ilcDM),
  bar: ilcMed, lo: ilcLo, hi: ilcHi, xLabels: treatLabels, labelAt: mid4,
  sig: [{ x1: 2.02, x2: 3.1, y: 0.572, text: '*', dy: -20 }] });
dotChart({ plot: { L: 1130, T: 1463, R: 1328, B: 1758 }, titleCx: 1061, style: ROW4, xMin: -0.72, xMax: 3.71,
  yMin: 0, yMax: 0.5, yTicks: ['0.0', '0.1', '0.2', '0.3', '0.4', '0.5'], groups: four(detFlE, detDE, detFlM, detDM),
  bar: detMed, lo: detLo, hi: detHi, xLabels: treatLabels, labelAt: mid4,
  sig: [{ x1: 1.87, x2: 2.98, y: 0.475, text: '*', dy: -13 }] });
dotChart({ plot: { L: 1453, T: 1463, R: 1651, B: 1758 }, titleCx: 1385, style: ROW4, xMin: -0.66, xMax: 3.71,
  yMin: 0, yMax: 0.3, yTicks: ['0.0', '0.1', '0.2', '0.3'], groups: four(gdFlE, gdDE, gdFlM, gdDM),
  bar: gdMed, lo: gdLo, hi: gdHi, xLabels: treatLabels, labelAt: mid4,
  sig: [{ x1: 2.0, x2: 3.1, y: 0.29, text: '**', dy: -23 }] });

// ---------- text, legends, panel letters ----------
const letterCss = 'font-weight:bold;font-size:26px';
label('A', 25, 17, letterCss); label('B', 783, 16, letterCss);
label('C', 15, 496, letterCss); label('D', 712, 496, letterCss);

legendMark(111, 165, 16, BLACK, 'tri', 20);
legendMark(436, 488, 16, RED, 'rect', 16);
legendMark(111, 165, 63, GRAY, 'circle', 18);
legendMark(436, 488, 63, BLUE, 'circle', 18);
const legA = 'font-size:35px';
label('MC903 + PBS', 183, 17, legA, true);
label('MC903+ αIL-4', 509, 17, legA, true);
label('EtOH', 183, 64, legA, true);
label('MC903+ rIgG1', 509, 64, legA, true);

const titleB = 'font-weight:bold;font-size:26px';
label('Neutrophils', 924, 28, titleB);
label('MHCII<sup>hi</sup> Macs', 1236, 30, titleB);
label('CD206<sup>hi</sup> Macs', 1535, 28, titleB);

legendMark(1371, 1404, 502, BLUE, 'circle', 14);
legendMark(1371, 1404, 546, RED, 'rect', 13);
legendMark(1371, 1404, 581, GRAY, 'circle', 14);
legendMark(1402, 1434, 617, BLACK, 'tri', 15);
const legD = 'font-size:25px';
label('MC903 (CSF1<sup>&nbsp;fl/fl</sup>)', 1421, 502, legD, true);
label('MC903 (CSF1<sup>ΔMCPT8</sup>)', 1421, 547, legD, true);
label('EtOH (CSF1<sup>&nbsp;fl/fl</sup>)', 1421, 582, legD, true);
label('EtOH (CSF1<sup>ΔMCPT8</sup>)', 1451, 618, legD, true);

dotMark(132, 947, 15, '#fff');
dotMark(407, 948, 15, DOTRED);
label('CSF1<sup style="font-size:0.66em">fl/fl</sup>', 182, 954, 'font-size:34px', true);
label('CSF1<sup style="font-size:0.78em">ΔMCPT8</sup>', 459, 954, 'font-size:34px', true);

const titleR = 'font-weight:bold;font-size:28px';
label('Leucocytes', 207, 1002, titleR);
label('Basophils', 535, 1001, titleR);
label('Neutrophils', 881, 1002, titleR);
label('MHCII<sup>hi</sup> Macs', 1190, 1009, titleR);
label('CD206<sup>hi</sup> Macs', 1517, 1008, titleR);
label('CD4+&nbsp; T cells', 189, 1418, titleR);
label('CD8+ T cells', 545, 1418, titleR);
label('ILC2s', 883, 1418, titleR);
label('DETCs', 1228, 1418, titleR);
label('<span style="font-family:\'Liberation Serif\',serif;font-weight:normal">γδ</span> T cells', 1551, 1418, titleR);
</script>
</body>
</html>
